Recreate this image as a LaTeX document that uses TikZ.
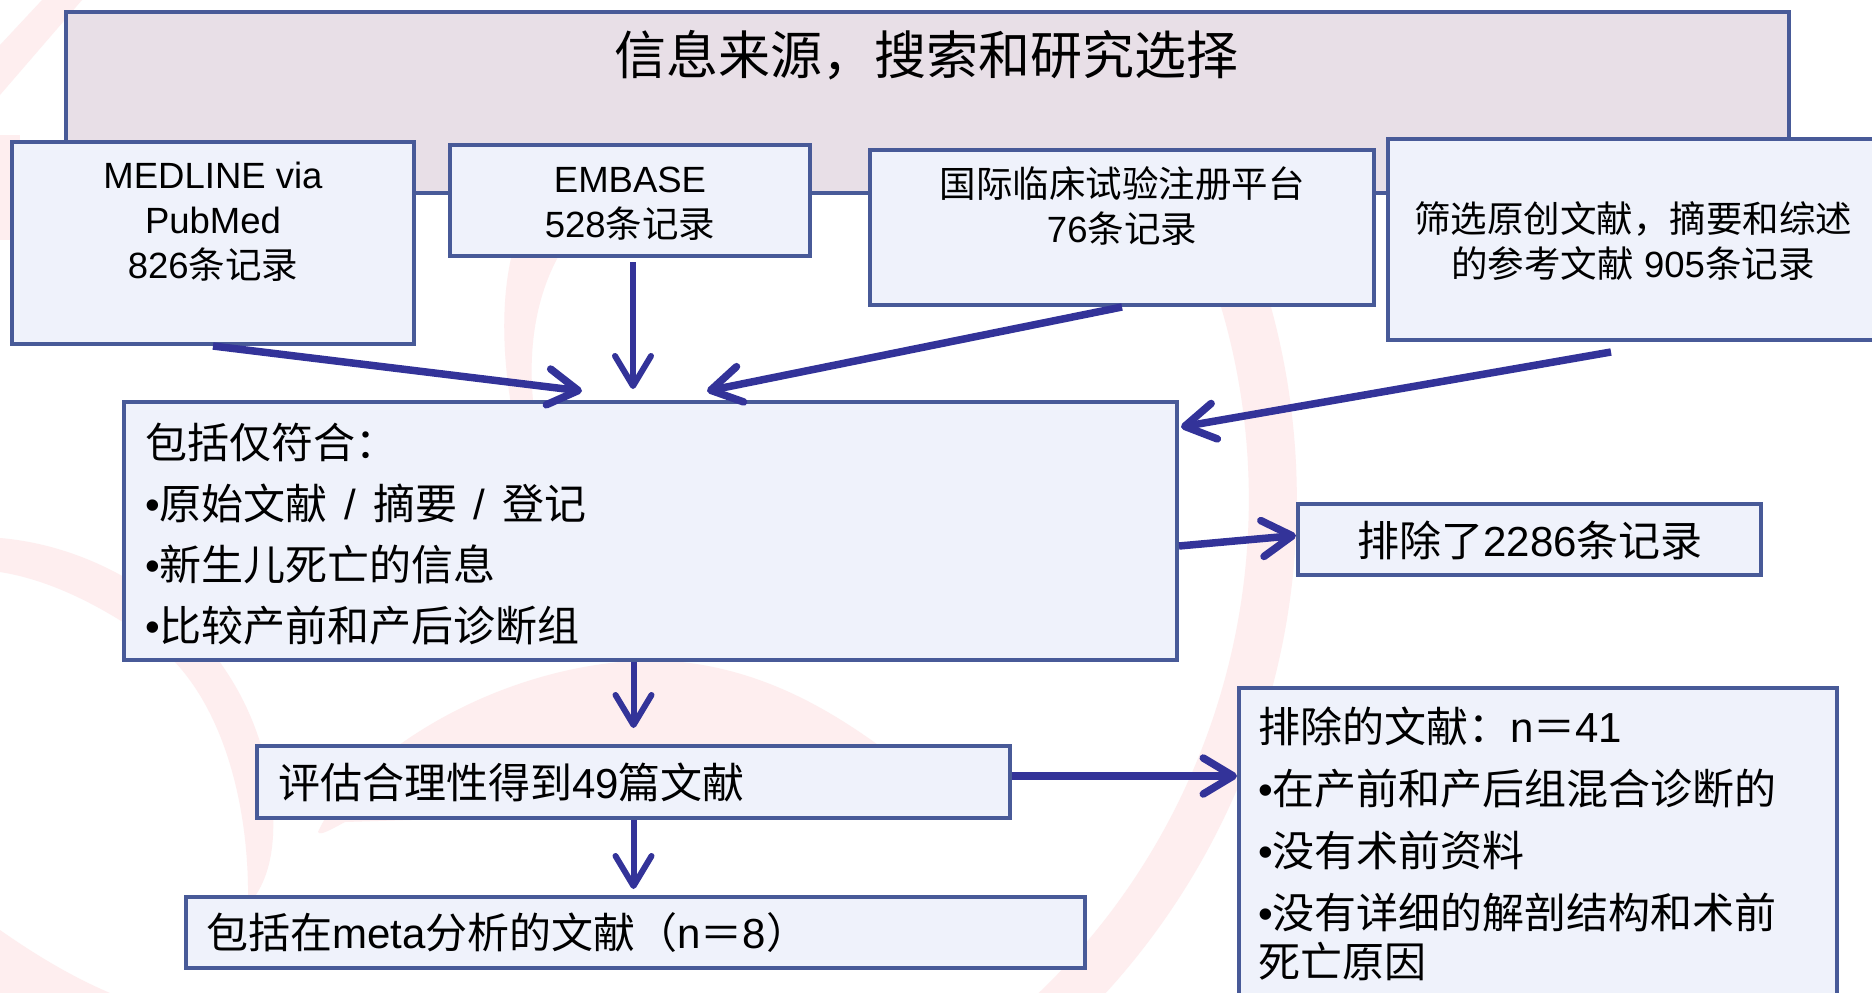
\documentclass[tikz,border=0pt]{standalone}
\usepackage{fontspec}
\setmainfont{Liberation Sans}
\newfontfamily\cjk{Noto Sans CJK SC}
\usetikzlibrary{arrows.meta,calc}
\newcommand{\zh}[1]{{\cjk #1}}
\definecolor{boxfill}{RGB}{239,242,251}
\definecolor{boxline}{RGB}{72,90,152}
\definecolor{titlefill}{RGB}{232,223,231}
\definecolor{arrowc}{RGB}{51,51,153}
\definecolor{pinkbg}{RGB}{254,238,239}
\begin{document}
\begin{tikzpicture}[x=1pt,y=-1pt,
  box/.style={draw=boxline, fill=boxfill, line width=4pt, inner sep=0pt, rectangle},
  titlebox/.style={box, fill=titlefill, line width=4.5pt},
  txt/.style={inner sep=0pt, text=black},
  ftop/.style={font=\fontsize{36.5}{45}\selectfont},
  fmid/.style={font=\fontsize{42}{61}\selectfont},
  flow/.style={font=\fontsize{42}{62}\selectfont},
  arr/.style={draw=arrowc, line width=7.5pt, -{Straight Barb[length=30pt,width=36pt,round]}},
  varr/.style={arr, line width=6pt}]
\useasboundingbox (0,0) rectangle (1872,993);
\fill[white] (0,0) rectangle (1872,993);
\begin{scope}
\clip (0,0) rectangle (1872,993);
% faint background decoration
\fill[pinkbg] (42,0) -- (82,0) -- (0,95) -- (0,45) -- cycle;
\fill[pinkbg] (0,135) rectangle (20,240);
\fill[pinkbg] (0,538) .. controls (120,548) and (255,640) .. (272,800)
  .. controls (278,860) and (262,890) .. (248,905)
  .. controls (250,800) and (220,690) .. (150,640)
  .. controls (100,605) and (50,580) .. (0,572) -- cycle;
\fill[pinkbg] (0,930) .. controls (40,958) and (75,978) .. (110,993) -- (0,993) -- cycle;
\fill[pinkbg] (513,250) .. controls (500,300) and (503,360) .. (512,410) -- (534,410)
  .. controls (528,360) and (532,300) .. (562,250) -- cycle;
\fill[pinkbg] (318,832) .. controls (345,770) and (480,665) .. (650,660)
  .. controls (760,662) and (840,715) .. (905,765) -- (905,805) -- (345,822)
  .. controls (330,830) and (320,836) .. (318,832) -- cycle;
\draw[pinkbg, line width=48pt] (1178,146.5) arc[start angle=30, end angle=-60, radius=707pt];
% boxes
\node[titlebox, minimum width=1723pt, minimum height=181pt] (title) at (927.5,102.5) {};
\node[box, minimum width=402pt, minimum height=202pt] (medline) at (213,243) {};
\node[box, minimum width=360pt, minimum height=111pt] (embase) at (630,200.5) {};
\node[box, minimum width=504pt, minimum height=155pt] (ictrp) at (1122,227.5) {};
\node[box, minimum width=502pt, minimum height=201pt] (refs) at (1639,239.5) {};
\node[box, minimum width=1053pt, minimum height=258pt] (incl) at (650.5,531) {};
\node[box, minimum width=463pt, minimum height=71pt] (excla) at (1529.5,539.5) {};
\node[box, minimum width=753pt, minimum height=72pt] (assess) at (633.5,782) {};
\node[box, minimum width=899pt, minimum height=71pt] (meta) at (635.5,932.5) {};
\node[box, minimum width=598pt, minimum height=332pt] (exclb) at (1538,854) {};
\end{scope}
% texts
\node[txt, font=\fontsize{52}{60}\selectfont\cjk] (titleT) at (926,55) {信息来源，搜索和研究选择};
\node[txt, ftop, anchor=north, align=center] (medlineT) at (213,156.5)
  {\strut MEDLINE via\\\strut PubMed\\\strut 826\zh{条记录}};
\node[txt, ftop, anchor=north, align=center] (embaseT) at (630,160.5)
  {\strut EMBASE\\\strut 528\zh{条记录}};
\node[txt, ftop, anchor=north, align=center] (ictrpT) at (1122,165.5)
  {\strut\zh{国际临床试验注册平台}\\\strut 76\zh{条记录}};
\node[txt, ftop, anchor=north, align=center] (refsT) at (1633,200.5)
  {\strut\zh{筛选原创文献，摘要和综述}\\\strut\zh{的参考文献} 905\zh{条记录}};
\node[txt, fmid, anchor=north west, align=left] (inclT) at (145,415.3)
  {\strut\zh{包括仅符合：}\\
   \strut•\zh{原始文献}\hspace{0.4em}/\hspace{0.4em}\zh{摘要}\hspace{0.4em}/\hspace{0.4em}\zh{登记}\\
   \strut•\zh{新生儿死亡的信息}\\
   \strut•\zh{比较产前和产后诊断组}};
\node[txt, fmid] (exclaT) at (1530,540) {\zh{排除了}2286\zh{条记录}};
\node[txt, fmid, anchor=west] (assessT) at (278,782) {\zh{评估合理性得到}49\zh{篇文献}};
\node[txt, fmid, anchor=west] (metaT) at (206,933) {\zh{包括在}meta\zh{分析的文献（}n\zh{＝}8\zh{）}};
\node[txt, flow, anchor=north west, align=left] (exclbT) at (1258,698.6)
  {\strut\zh{排除的文献：}n\zh{＝}41\\
   \strut•\zh{在产前和产后组混合诊断的}\\
   \strut•\zh{没有术前资料}\\
   \strut•\zh{没有详细的解剖结构和术前}};
\node[txt, flow, anchor=base west] (exclbT2) at (1258,977) {\zh{死亡原因}};
% connectors
\coordinate (t1) at (582,391);
\coordinate (s2) at (633,262);
\coordinate (t2) at (633,389);
\coordinate (t3) at (707,391);
\coordinate (s4) at (1611,352);
\coordinate (t4) at (1181,427);
\coordinate (s5) at ($(incl.east)+(0,15)$);
\coordinate (s8) at ($(assess.east)+(0,-6)$);
\draw[arr] (medline.south) -- (t1);
\draw[varr] (s2) -- (t2);
\draw[arr] (ictrp.south) -- (t3);
\draw[arr] (s4) -- (t4);
\draw[arr] (s5) -- ($(excla.west)+(0,-4)$);
\draw[varr] (assess.north |- incl.south) -- ($(assess.north)+(0,-16)$);
\draw[varr] (assess.south) -- ($(meta.north -| assess.south)+(0,-6)$);
\draw[arr] (s8) -- (s8 -| exclb.west);
\end{tikzpicture}
\end{document}
